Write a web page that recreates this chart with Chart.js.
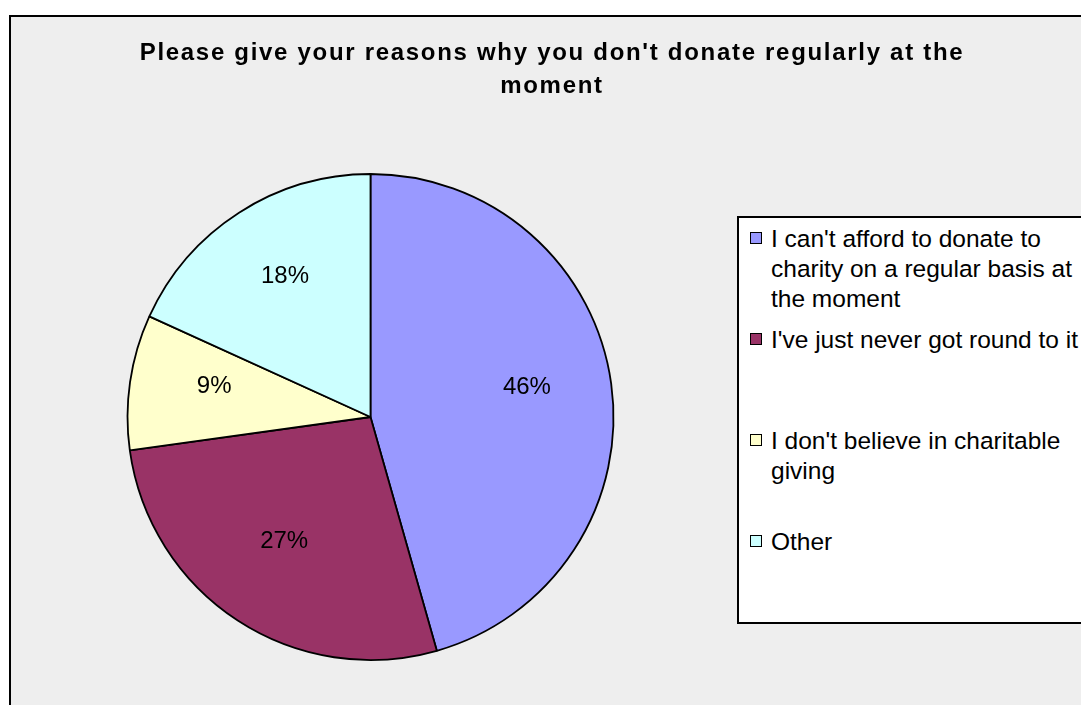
<!DOCTYPE html>
<html>
<head>
<meta charset="utf-8">
<script src="https://cdn.jsdelivr.net/npm/chart.js@4.4.1/dist/chart.umd.min.js"></script>
<style>
  html, body { margin: 0; padding: 0; background: #fff; overflow: hidden; }
  body { width: 1081px; height: 705px; position: relative; font-family: "Liberation Sans", Arial, sans-serif; }
  .frame {
    position: absolute; left: 9px; top: 15px; width: 1200px; height: 800px;
    background: #eeeeee; border: 2px solid #000;
  }
  .chart-box { position: absolute; left: 0; top: 0; width: 1081px; height: 705px; }
  .title {
    position: absolute; left: 102px; top: 36px; width: 900px;
    text-align: center; font-weight: bold; font-size: 24px; line-height: 32.6px;
    letter-spacing: 1.7px; color: #000;
  }
  .legend {
    position: absolute; left: 737px; top: 216px; width: 400px; height: 404px;
    background: #fff; border: 2px solid #000;
  }
  .legend__item {
    position: relative; box-sizing: border-box; height: 101px;
    padding: 6px 0 0 32px; font-size: 24.5px; line-height: 30px; color: #000;
  }
  .legend__item span.text { display: block; width: 330px; }
  .legend__swatch {
    position: absolute; left: 11px; top: 14px; width: 10px; height: 10px;
    border: 1px solid #000;
  }
</style>
</head>
<body>
<div class="frame"></div>
<div class="chart-box"><canvas id="myChart"></canvas></div>
<div class="title">Please give your reasons why you don't donate regularly at the moment</div>
<div class="legend" id="legend"></div>
<script>
const categories = [
  "I can't afford to donate to charity on a regular basis at the moment",
  "I've just never got round to it",
  "I don't believe in charitable giving",
  "Other"
]
const shares = [45.6, 27.2, 9.0, 18.2]
const sliceColors = ["#9999FF", "#993366", "#FFFFCC", "#CCFFFF"]

const sliceLabels = {
  id: 'sliceLabels',
  afterDatasetsDraw(chart) {
    const ctx = chart.ctx
    const meta = chart.getDatasetMeta(0)
    ctx.save()
    ctx.font = '24px "Liberation Sans", Arial, sans-serif'
    ctx.fillStyle = '#000'
    ctx.textAlign = 'center'
    ctx.textBaseline = 'middle'
    meta.data.forEach((arc, i) => {
      const p = arc.getProps(['x', 'y', 'startAngle', 'endAngle', 'outerRadius'], true)
      const mid = (p.startAngle + p.endAngle) / 2
      const r = p.outerRadius * 0.65
      ctx.fillText(Math.round(shares[i]) + '%', p.x + Math.cos(mid) * r, p.y + Math.sin(mid) * r - 8)
    })
    ctx.restore()
  }
}

const ctx = document.getElementById('myChart').getContext('2d')

const myChart = new Chart(ctx, {
  type: 'pie',
  data: {
    labels: categories,
    datasets: [{
      data: shares,
      backgroundColor: sliceColors,
      borderColor: '#000',
      borderWidth: 1.8
    }]
  },
  options: {
    responsive: true,
    maintainAspectRatio: false,
    animation: false,
    radius: 243,
    layout: {
      padding: { left: 120.5, top: 167, right: 460.5, bottom: 38 }
    },
    plugins: {
      legend: { display: false },
      tooltip: { enabled: false },
      title: { display: false }
    }
  },
  plugins: [sliceLabels]
});

// html legend built from the chart data
const legendEl = document.getElementById('legend')
myChart.data.labels.forEach((label, i) => {
  const item = document.createElement('div')
  item.className = 'legend__item'
  const swatch = document.createElement('span')
  swatch.className = 'legend__swatch'
  swatch.style.background = sliceColors[i]
  const text = document.createElement('span')
  text.className = 'text'
  text.textContent = label
  item.appendChild(swatch)
  item.appendChild(text)
  legendEl.appendChild(item)
})
</script>
</body>
</html>
